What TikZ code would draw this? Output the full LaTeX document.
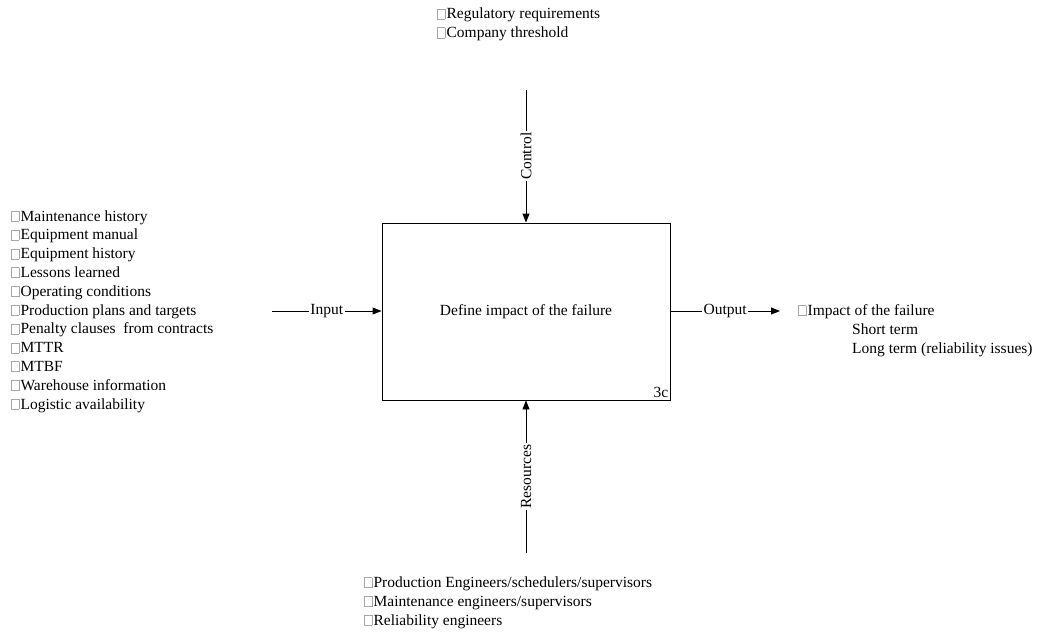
\documentclass[tikz,border=0pt]{standalone}
\usepackage{fontspec}
\setmainfont{Liberation Serif}
\usetikzlibrary{arrows.meta}

% hollow grey square that precedes each list entry
\newcommand\sqbox{\textcolor{black!35}{\fboxsep0pt\fboxrule0.6pt\fbox{\phantom{\rule{7pt}{9.5pt}}}}\kern1.2pt}

\tikzset{
  every node/.style={font=\fontsize{15.5}{18.8}\selectfont},
  flow/.style={draw=black, line width=0.9pt, -{Triangle[length=9pt,width=7pt]}},
  flowlabel/.style={fill=white, inner sep=1.5pt},
  % placed at the baseline of the last line of the list
  listtext/.style={anchor=base west, align=left, inner sep=0pt},
  activity/.style={draw=black, line width=0.9pt, minimum width=288pt, minimum height=177pt, inner sep=0pt}
}

\begin{document}
\begin{tikzpicture}[x=1pt, y=-1pt]
  \useasboundingbox (0,0) rectangle (1039,635);

  % the activity box
  \node[activity] (box) at (526,311.5) {Define impact of the failure};
  \node[anchor=base east, inner sep=0pt] (num) at (668.5,397.5) {3c};

  % free ends of the four arrows
  \coordinate (inS)  at (272,311);
  \coordinate (outE) at (780,311);
  \coordinate (ctlS) at (526,90);
  \coordinate (resS) at (526,553);

  \draw[flow] (inS) -- node[flowlabel] (inL) {Input} (box.west |- inS);
  \draw[flow] (box.east |- outE) -- node[flowlabel] (outL) {Output} (outE);
  \draw[flow] (ctlS) -- node[flowlabel, rotate=90] (ctlL) {Control} (box.north);
  \draw[flow] (resS) -- node[flowlabel, rotate=90] (resL) {Resources} (box.south);

  % inputs
  \node[listtext] (inputs) at (11,409) {%
    \sqbox Maintenance history\\
    \sqbox Equipment manual\\
    \sqbox Equipment history\\
    \sqbox Lessons learned\\
    \sqbox Operating conditions\\
    \sqbox Production plans and targets\\
    \sqbox Penalty clauses\ \ from contracts\\
    \sqbox MTTR\\
    \sqbox MTBF\\
    \sqbox Warehouse information\\
    \sqbox Logistic availability};

  % controls
  \node[listtext] (controls) at (437,37.5) {%
    \sqbox Regulatory requirements\\
    \sqbox Company threshold};

  % resources
  \node[listtext] (resources) at (364,625) {%
    \sqbox Production Engineers/schedulers/supervisors\\
    \sqbox Maintenance engineers/supervisors\\
    \sqbox Reliability engineers};

  % outputs
  \node[listtext] (outputs) at (798,353) {%
    \sqbox Impact of the failure\\
    \hspace*{54pt}Short term\\
    \hspace*{54pt}Long term (reliability issues)};
\end{tikzpicture}
\end{document}
